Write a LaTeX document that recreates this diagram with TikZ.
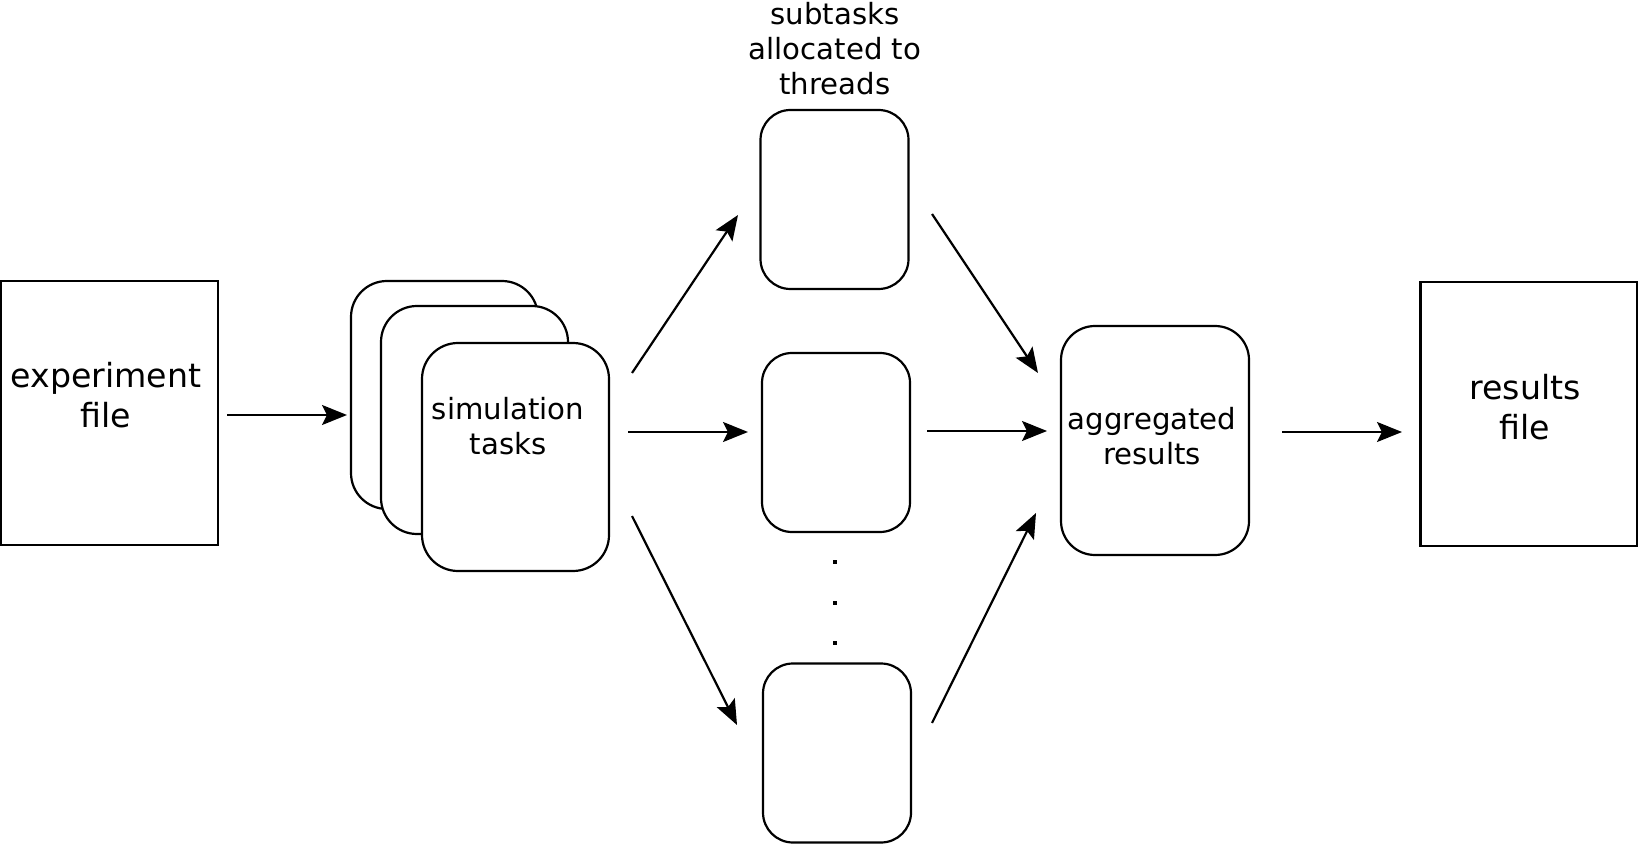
\documentclass[tikz,border=0pt]{standalone}
\usepackage{fontspec}
\setmainfont{DejaVu Sans}
\usetikzlibrary{arrows.meta}

\tikzset{every picture/.style={line width=1.1pt}}
\tikzset{
  filebox/.style={draw, rectangle, fill=white, inner sep=0pt, minimum width=108.5pt, minimum height=132pt},
  card/.style={draw, rectangle, rounded corners=18pt, fill=white, inner sep=0pt, minimum width=93.5pt, minimum height=114pt},
  subbox/.style={draw, rectangle, rounded corners=15pt, fill=white, inner sep=0pt, minimum width=74pt, minimum height=89.5pt},
  bigtext/.style={align=center, inner sep=0pt, font=\fontsize{16.6pt}{20pt}\selectfont},
  smalltext/.style={align=center, inner sep=0pt, font=\fontsize{14.6pt}{17.5pt}\selectfont},
  dot/.style={rectangle, fill=black, inner sep=0pt, minimum size=1.7pt},
  arr/.style={-{Stealth[length=12.5pt,width=10pt,inset=2.5pt]}}
}

\begin{document}
\begin{tikzpicture}[x=0.5pt,y=0.5pt,yscale=-1,xscale=1]
	\useasboundingbox (0,0) rectangle (1638,844);
	%Shape: Rectangle [id:expbox]
	\node[filebox] (expbox) at (109.5,413) {};
	%Shape: Rectangle [id:resbox]
	\node[filebox] (resbox) at (1529,414) {};
	%Shape: Rounded Rect [id:simback]
	\node[card] (simback) at (444.5,395) {};
	%Shape: Rounded Rect [id:simmid]
	\node[card] (simmid) at (474.5,420) {};
	%Shape: Rounded Rect [id:simfront]
	\node[card] (simfront) at (515.5,457) {};
	%Shape: Rounded Rect [id:subone]
	\node[subbox] (subone) at (834.5,199.5) {};
	%Shape: Rounded Rect [id:subtwo]
	\node[subbox] (subtwo) at (836,442.5) {};
	%Shape: Rounded Rect [id:subthree]
	\node[subbox] (subthree) at (837,753) {};
	%Shape: Rounded Rect [id:aggbox]
	\node[card, rounded corners=17pt, minimum width=94pt, minimum height=114.5pt] (aggbox) at (1155,440.5) {};
	%Shape: Dots
	\foreach \y [count=\i] in {562,603,643}
		\node[dot] (dot\i) at (835,\y) {};

	% Text Node
	\node[bigtext] (exptext) at (106,395) {experiment\\file};
	% Text Node
	\node[smalltext] (simtext) at (508,426) {simulation\\tasks};
	% Text Node
	\node[smalltext] (subtext) at (835,49) {subtasks\\allocated to\\threads};
	% Text Node
	\node[smalltext] (aggtext) at (1152,436) {aggregated\\results};
	% Text Node
	\node[bigtext] (restext) at (1525,407) {results\\file};

	%Straight Lines
	\coordinate (ain) at (227,415);   \coordinate (aout) at (347,415);
	\coordinate (bin) at (632,373);   \coordinate (bout) at (738,215);
	\coordinate (cin) at (628,432);   \coordinate (cout) at (748,432);
	\coordinate (din) at (632,516);   \coordinate (dout) at (737,725);
	\coordinate (ein) at (932,214);   \coordinate (eout) at (1038,373);
	\coordinate (fin) at (927,431);   \coordinate (fout) at (1047,431);
	\coordinate (gin) at (932,723);   \coordinate (gout) at (1036,513);
	\coordinate (hin) at (1282,432);  \coordinate (hout) at (1402,432);
	\foreach \a in {a,b,c,d,e,f,g,h}
		\draw[arr] (\a in) -- (\a out);
\end{tikzpicture}
\end{document}
